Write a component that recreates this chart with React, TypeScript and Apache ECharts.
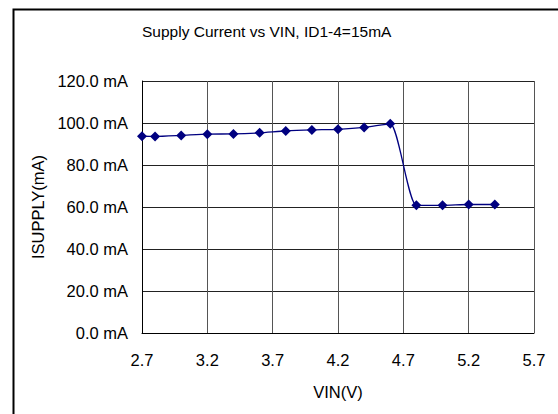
import React, { useEffect, useRef } from "react";
import * as echarts from "echarts";

const X0 = 2.7;
const vin = [2.7, 2.8, 3.0, 3.2, 3.4, 3.6, 3.8, 4.0, 4.2, 4.4, 4.6, 4.8, 5.0, 5.2, 5.4];
const isupply = [93.7, 93.6, 94.1, 94.7, 94.8, 95.3, 96.2, 96.7, 97.0, 97.9, 99.6, 60.8, 60.8, 61.2, 61.2];
const xTicks = ["2.7", "3.2", "3.7", "4.2", "4.7", "5.2", "5.7"];

const FONT = "'Liberation Sans', Arial, sans-serif";

export default function App() {
  const ref = useRef<HTMLDivElement>(null);
  useEffect(() => {
    if (!ref.current) return;
    const chart = echarts.init(ref.current, undefined, { renderer: "svg" });
    const data = vin.map((v, i) => [+(v - X0).toFixed(4), isupply[i]]);
    chart.setOption({
      animation: false,
      backgroundColor: "#ffffff",
      textStyle: { fontFamily: FONT },
      title: {
        text: "Supply Current vs VIN, ID1-4=15mA",
        left: 142,
        top: 23,
        padding: 0,
        textStyle: { fontFamily: FONT, fontSize: 15.5, fontWeight: "normal", color: "#000" },
      },
      graphic: [
        {
          type: "rect",
          left: 11,
          top: 7,
          shape: { x: 0, y: 0, width: 600, height: 500 },
          style: { fill: "none", stroke: "#000", lineWidth: 2 },
          silent: true,
        },
      ],
      grid: { left: 142, right: 24, top: 81, bottom: 81, containLabel: false },
      xAxis: {
        type: "value",
        min: 0,
        max: 3,
        interval: 0.5,
        name: "VIN(V)",
        nameLocation: "middle",
        nameGap: 50,
        nameTextStyle: { fontFamily: FONT, fontSize: 16.5, color: "#000" },
        axisLine: { show: true, onZero: false, lineStyle: { color: "#000", width: 1 } },
        axisTick: { show: false },
        splitLine: { show: true, lineStyle: { color: "#555", width: 1 } },
        axisLabel: {
          margin: 18,
          fontFamily: FONT,
          fontSize: 16.5,
          color: "#000",
          formatter: (v: number) => {
            const idx = Math.round(v / 0.5);
            return xTicks[idx] ?? (v + X0).toFixed(1);
          },
        },
      },
      yAxis: {
        type: "value",
        min: 0,
        max: 120,
        interval: 20,
        name: "ISUPPLY(mA)",
        nameLocation: "middle",
        nameGap: 94,
        nameTextStyle: { fontFamily: FONT, fontSize: 16.5, color: "#000" },
        axisLine: { show: true, lineStyle: { color: "#000", width: 1 } },
        axisTick: { show: false },
        splitLine: { show: true, lineStyle: { color: "#222", width: 1 } },
        axisLabel: {
          margin: 14,
          fontFamily: FONT,
          fontSize: 16.5,
          color: "#000",
          formatter: (v: number) => v.toFixed(1) + " mA",
        },
      },
      series: [
        {
          type: "line",
          data,
          smooth: 0.2,
          symbol: "diamond",
          symbolSize: 10,
          lineStyle: { color: "#000080", width: 1.3 },
          itemStyle: { color: "#000080" },
          clip: false,
        },
      ],
    });
    return () => chart.dispose();
  }, []);
  return <div ref={ref} style={{ width: 558, height: 414, position: "absolute", left: 0, top: 0 }} />;
}
